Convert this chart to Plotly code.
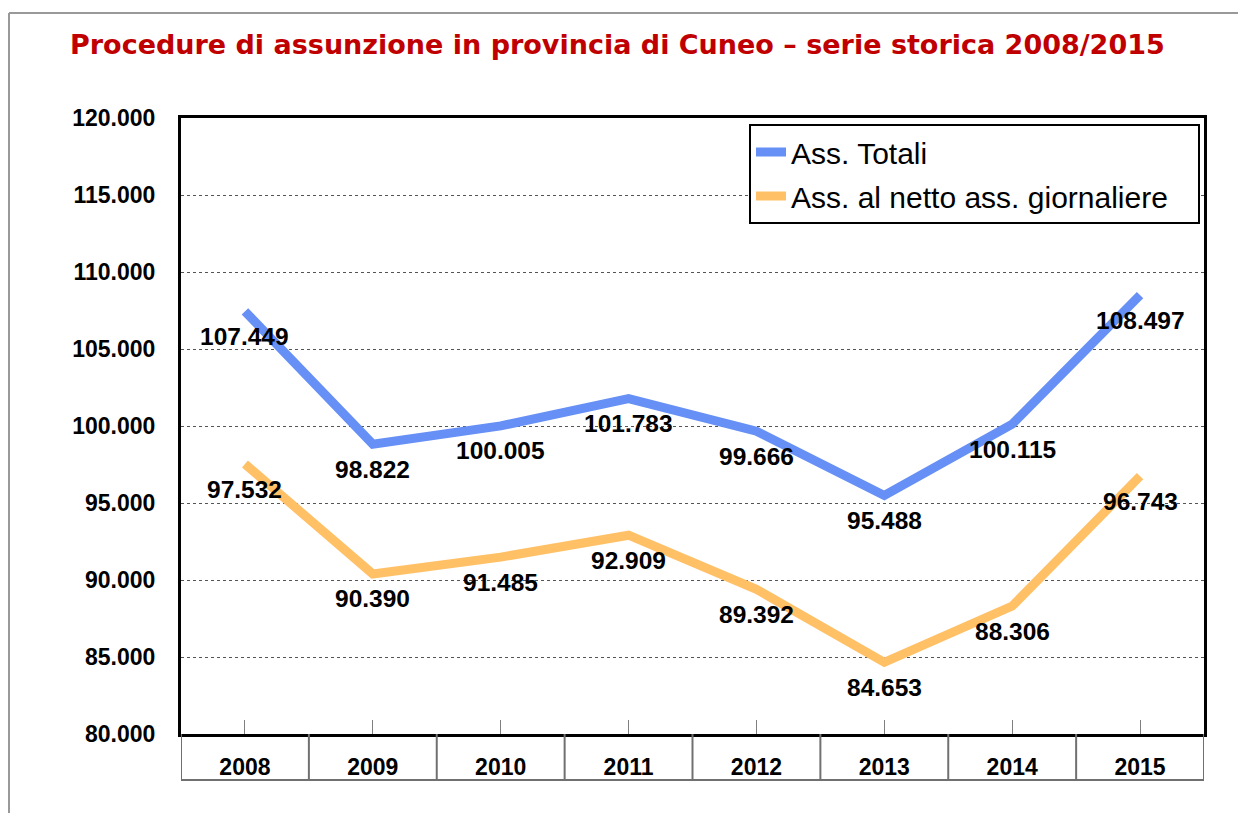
import plotly.graph_objects as go

years = ["2008", "2009", "2010", "2011", "2012", "2013", "2014", "2015"]
ass_totali = [107449, 98822, 100005, 101783, 99666, 95488, 100115, 108497]
ass_netto = [97532, 90390, 91485, 92909, 89392, 84653, 88306, 96743]
series_names = ["Ass. Totali", "Ass. al netto ass. giornaliere"]
y_ticks = [80000, 85000, 90000, 95000, 100000, 105000, 110000, 115000, 120000]

BLUE = "#6690F5"
ORANGE = "#FFC066"
OFF = 8  # page body margin
W, H = 1246 - OFF, 813 - OFF
L = 181 - OFF
T = 118 - OFF
R = W - (1204 - OFF)
B = H - (734 - OFF)
PW, PH = W - L - R, H - T - B
LEGEND_PAD = "\u00a0" * 3  # right padding inside the legend box


def fmt(v):
    return f"{v:,}".replace(",", ".")


fig = go.Figure()
for i, (name, vals, col) in enumerate([(series_names[0], ass_totali, BLUE),
                                       (series_names[1], ass_netto, ORANGE)]):
    fig.add_trace(go.Scatter(x=years, y=vals, mode="lines", name=name + LEGEND_PAD,
                             legendgroup=f"g{i}", line=dict(color=col, width=9)))

annotations = []
for vals in (ass_totali, ass_netto):
    for idx, v in enumerate(vals):
        annotations.append(dict(x=idx, y=v, xref="x", yref="y", text="<b>" + fmt(v) + "</b>",
                                showarrow=False, yshift=-25,
                                font=dict(family="Liberation Sans", size=24.5, color="black"),
                                xanchor="center", yanchor="middle"))

shapes = []
row_h = -46 / PH
for i in range(len(years) + 1):
    xv = i - 0.5
    shapes.append(dict(type="line", xref="x", yref="paper", x0=xv, x1=xv, y0=0, y1=row_h,
                       line=dict(color="#707070", width=2)))
shapes.append(dict(type="line", xref="x", yref="paper", x0=-0.5, x1=len(years) - 0.5,
                   y0=row_h, y1=row_h, line=dict(color="#707070", width=2)))
# outer frame (top and left)
top_y = (H - (13 - OFF) - B) / PH
left_x = (1 - L) / PW
shapes.append(dict(type="line", xref="paper", yref="paper", x0=left_x, x1=(W - L) / PW,
                   y0=top_y, y1=top_y, line=dict(color="#999999", width=2)))
shapes.append(dict(type="line", xref="paper", yref="paper", x0=left_x, x1=left_x,
                   y0=top_y, y1=-B / PH, line=dict(color="#999999", width=2)))

fig.update_layout(
    width=W, height=H,
    margin=dict(l=L, r=R, t=T, b=B, autoexpand=False),
    paper_bgcolor="white", plot_bgcolor="white",
    separators=",.",
    title=dict(text="<b>Procedure di assunzione in provincia di Cuneo \u2013 serie storica 2008/2015</b>",
               x=(70 - OFF) / W, xanchor="left", xref="container",
               y=1 - (45 - OFF) / H, yanchor="middle", yref="container",
               font=dict(family="DejaVu Sans", size=27, color="#C00000")),
    legend=dict(x=(1200 - OFF - L) / PW, xanchor="right", y=(H - B - (124 - OFF)) / PH, yanchor="top",
                bgcolor="white", bordercolor="black", borderwidth=2, tracegroupgap=2,
                itemwidth=30,
                font=dict(family="Liberation Sans", size=30, color="black")),
    xaxis=dict(type="category", range=[-0.5, len(years) - 0.5], showgrid=False,
               showline=True, linecolor="black", linewidth=3, mirror=True,
               ticks="inside", ticklen=14, tickcolor="#808080", tickwidth=1,
               ticklabelstandoff=10,
               tickfont=dict(family="Liberation Sans", size=23, color="black", weight="bold")),
    yaxis=dict(range=[80000, 120000], tickvals=y_ticks, tickformat=",d",
               showgrid=True, gridcolor="#555555", griddash="dot", gridwidth=1,
               showline=True, linecolor="black", linewidth=3, mirror=True,
               ticks="", ticklabelstandoff=18, zeroline=False,
               tickfont=dict(family="Liberation Sans", size=23, color="black", weight="bold")),
    annotations=annotations,
    shapes=shapes,
)

fig.write_html("out.html")
